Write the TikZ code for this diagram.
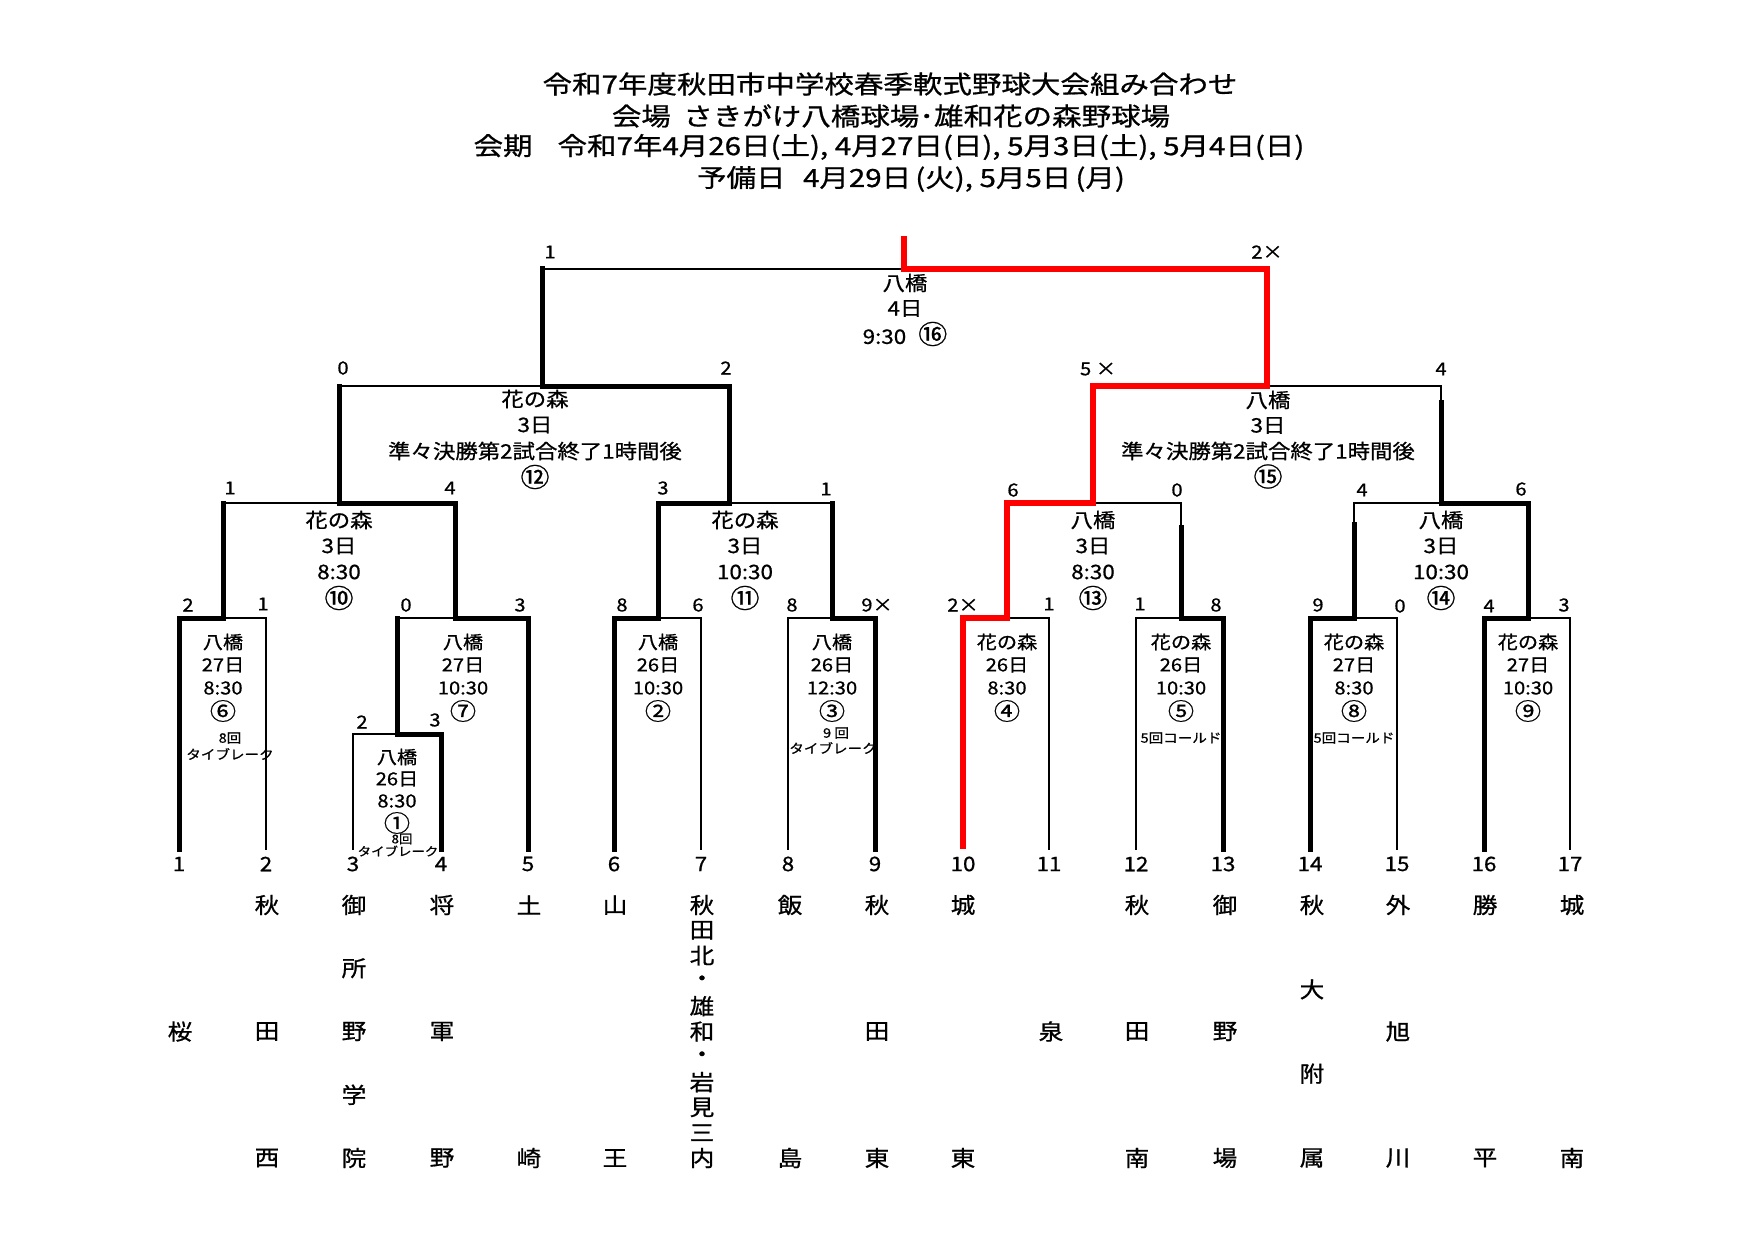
\documentclass[tikz,border=0pt]{standalone}
\usepackage{fontspec}
\setmainfont{Noto Sans CJK JP}
\newfontfamily\jp{Noto Sans CJK JP}[FakeStretch=1.12,FakeBold=0.8]
\newfontfamily\jpt{Noto Sans CJK JP}[FakeStretch=1.18,FakeBold=0.8]
\newcommand\cn[1]{\scalebox{1.3}{#1}}
\newcommand\schoolname[4]{%
  \ifnum#3=1
    \node[kschool] (#1-1) at (#2,1031.5) {#4};
  \else
    \foreach \ch [count=\k] in {#4} {\node[kschool] (#1-\k) at (#2,{905+(\k-1)*253/(#3-1)}) {\ch};}
  \fi}
\newcommand\minfo[6]{%
  \foreach \l [count=\k] in {#6} {\node[#5] (#1-\k) at (#2,{#3+(\k-1)*#4}) {\l};}}
\begin{document}
\begin{tikzpicture}[x=1pt,y=-1pt,
  kthin/.style={line width=2.2pt,line cap=rect,line join=miter},
  kmed/.style={line width=2.8pt,line cap=rect,line join=miter},
  kthick/.style={line width=5pt,line cap=rect,line join=miter},
  kred/.style={line width=5.5pt,draw=red,line cap=butt,line join=miter},
  kttl/.style={font=\jpt\fontsize{25}{25}\selectfont,inner sep=0pt},
  kinf/.style={font=\jp\fontsize{18}{18}\selectfont,inner sep=0pt},
  kinfb/.style={font=\jp\fontsize{20}{20}\selectfont,inner sep=0pt},
  knote/.style={font=\jp\fontsize{13}{13}\selectfont,inner sep=0pt},
  knotes/.style={font=\jp\fontsize{12}{12}\selectfont,inner sep=0pt},
  kscore/.style={font=\jp\fontsize{18}{18}\selectfont,inner sep=0pt},
  knum/.style={font=\jp\fontsize{20}{20}\selectfont,inner sep=0pt},
  kschool/.style={font=\jp\fontsize{22}{22}\selectfont,inner sep=0pt},
]
\fill[white] (0,0) rectangle (1754,1241);
\useasboundingbox (0,0) rectangle (1754,1241);

% title
\node[kttl] (ttl1) at (890,84) {令和7年度秋田市中学校春季軟式野球大会組み合わせ};
\node[kttl] (ttl2) at (891,116) {会場\hspace{0.5em}さきがけ八橋球場･雄和花の森野球場};
\node[kttl] (ttl3) at (889,147) {会期\hspace{1em}令和7年4月26日(土), 4月27日(日), 5月3日(土), 5月4日(日)};
\node[kttl] (ttl4) at (911,179) {予備日\hspace{0.7em}4月29日\,(火), 5月5日\,(月)};

% columns
\foreach \i/\x in {1/179,2/266,3/353,4/441,5/528,6/614,7/701,8/788,9/875,10/963,11/1049,12/1136,13/1223,14/1310,15/1397,16/1484,17/1570}
  {\coordinate (b\i) at (\x,849); \coordinate (t\i) at (\x,618);
   \node[knum] (n\i) at (\x,864) {\i};}
\coordinate (t3) at (353,734);
\coordinate (t4) at (441,734);

% junctions
\coordinate (j1) at (397,734); \coordinate (j1u) at (397,618);
\coordinate (j6) at (223,618); \coordinate (j6u) at (223,503);
\coordinate (j7) at (455,618); \coordinate (j7u) at (455,503);
\coordinate (j2) at (658,618); \coordinate (j2u) at (658,503);
\coordinate (j3) at (832,618); \coordinate (j3u) at (832,503);
\coordinate (j4) at (1007,618); \coordinate (j4u) at (1007,503);
\coordinate (j5) at (1181,618); \coordinate (j5k) at (1181,527); \coordinate (j5u) at (1181,503);
\coordinate (j8) at (1354,618); \coordinate (j8k) at (1354,524); \coordinate (j8u) at (1354,503);
\coordinate (j9) at (1528,618); \coordinate (j9u) at (1528,503);
\coordinate (j10) at (339,503); \coordinate (j10u) at (339,386);
\coordinate (j11) at (729,503); \coordinate (j11u) at (729,386);
\coordinate (j13) at (1093,503); \coordinate (j13u) at (1093,386);
\coordinate (j14) at (1441,503); \coordinate (j14k) at (1441,402); \coordinate (j14u) at (1441,386);
\coordinate (j12) at (542,386); \coordinate (j12u) at (542,269);
\coordinate (j15) at (1267,386); \coordinate (j15u) at (1267,269);
\coordinate (jf) at (904,269); \coordinate (jfu) at (904,236);

% thin (losing) lines
\draw[kthin] (b2) -- (t2) -- (j6);
\draw[kthin] (b3) -- (t3) -- (j1);
\draw[kthin] (j1u) -- (j7);
\draw[kthin] (j6u) -- (j10);
\draw[kthin] (j10u) -- (j12);
\draw[kmed] (j12u) -- (jf);
\draw[kthin] (b7) -- (t7) -- (j2);
\draw[kthin] (b8) -- (t8) -- (j3);
\draw[kthin] (j3u) -- (j11);
\draw[kthin] (b11) -- (t11) -- (j4);
\draw[kthin] (b12) -- (t12) -- (j5);
\draw[kthin] (j5k) -- (j5u) -- (j13);
\draw[kthin] (b15) -- (t15) -- (j8);
\draw[kthin] (j8k) -- (j8u) -- (j14);
\draw[kthin] (b17) -- (t17) -- (j9);
\draw[kthin] (j14k) -- (j14u) -- (j15);

% thick (winning) lines
\draw[kthick] (b1) -- (t1) -- (j6) -- (j6u);
\draw[kthick] (b5) -- (t5) -- (j7) -- (j7u) -- (j10) -- (j10u);
\draw[kthick] (b4) -- (t4) -- (j1) -- (j1u);
\draw[kthick] (b6) -- (t6) -- (j2) -- (j2u) -- (j11) -- (j11u) -- (j12) -- (j12u);
\draw[kthick] (b9) -- (t9) -- (j3) -- (j3u);
\draw[kthick] (b13) -- (t13) -- (j5) -- (j5k);
\draw[kthick] (b14) -- (t14) -- (j8) -- (j8k);
\draw[kthick] (b16) -- (t16) -- (j9) -- (j9u) -- (j14) -- (j14k);
\draw[kred] (b10) -- (t10) -- (j4) -- (j4u) -- (j13) -- (j13u) -- (j15) -- (j15u) -- (jf) -- (jfu);

% match info
\minfo{mF}{905}{283}{25.5}{kinfb}{八橋,4日,9:30\hspace{0.6em}\cn{⑯}}
\minfo{m12}{535}{399}{26}{kinfb}{花の森,3日,準々決勝第2試合終了1時間後,\cn{⑫}}
\minfo{m15}{1268}{400}{25.5}{kinfb}{八橋,3日,準々決勝第2試合終了1時間後,\cn{⑮}}
\minfo{m10}{339}{520}{26}{kinfb}{花の森,3日,8:30,\cn{⑩}}
\minfo{m11}{745}{520}{26}{kinfb}{花の森,3日,10:30,\cn{⑪}}
\minfo{m13}{1093}{520}{26}{kinfb}{八橋,3日,8:30,\cn{⑬}}
\minfo{m14}{1441}{520}{26}{kinfb}{八橋,3日,10:30,\cn{⑭}}
\minfo{m6}{223}{642}{23}{kinf}{八橋,27日,8:30,\cn{⑥}}
\minfo{m7}{463}{642}{23}{kinf}{八橋,27日,10:30,\cn{⑦}}
\minfo{m1}{397}{757}{22}{kinf}{八橋,26日,8:30,\cn{①}}
\minfo{m2}{658}{642}{23}{kinf}{八橋,26日,10:30,\cn{②}}
\minfo{m3}{832}{642}{23}{kinf}{八橋,26日,12:30,\cn{③}}
\minfo{m4}{1007}{642}{23}{kinf}{花の森,26日,8:30,\cn{④}}
\minfo{m5}{1181}{642}{23}{kinf}{花の森,26日,10:30,\cn{⑤}}
\minfo{m8}{1354}{642}{23}{kinf}{花の森,27日,8:30,\cn{⑧}}
\minfo{m9}{1528}{642}{23}{kinf}{花の森,27日,10:30,\cn{⑨}}

% notes
\node[knote] (nt6a) at (230,738) {8回};
\node[knote] (nt6b) at (230,754) {タイブレーク};
\node[knotes] (nt1a) at (402,839) {8回};
\node[knotes] (nt1b) at (398,851) {タイブレーク};
\node[knote] (nt3a) at (836,733) {9 回};
\node[knote] (nt3b) at (833,748) {タイブレーク};
\node[knote] (nt5) at (1181,738) {5回コールド};
\node[knote] (nt8) at (1354,738) {5回コールド};

% scores
\foreach \t/\x/\y [count=\k] in {1/550/252, 2×/1267/252,
  0/343/368, 2/726/368, 5 ×/1098/369, 4/1441/369,
  1/230/488, 4/450/488, 3/663/488, 1/826/489, 6/1013/490, 0/1177/490, 4/1362/490, 6/1521/489,
  2/188/605, 1/263/604, 0/406/605, 3/520/605, 8/622/605, 6/698/605, 8/792/605, 9×/877/605,
  2×/963/605, 1/1049/604, 1/1140/604, 8/1216/605, 9/1318/605, 0/1400/606, 4/1489/606, 3/1564/605,
  2/362/722, 3/435/720}
  {\node[kscore] (sc\k) at (\x,\y) {\t};}

% school names
\schoolname{s1}{180}{1}{桜}
\schoolname{s2}{267}{3}{秋,田,西}
\schoolname{s3}{354}{5}{御,所,野,学,院}
\schoolname{s4}{442}{3}{将,軍,野}
\schoolname{s5}{529}{2}{土,崎}
\schoolname{s6}{615}{2}{山,王}
\schoolname{s7}{702}{11}{秋,田,北,・,雄,和,・,岩,見,三,内}
\schoolname{s8}{790}{2}{飯,島}
\schoolname{s9}{877}{3}{秋,田,東}
\schoolname{s10}{963}{2}{城,東}
\schoolname{s11}{1051}{1}{泉}
\schoolname{s12}{1137}{3}{秋,田,南}
\schoolname{s13}{1225}{3}{御,野,場}
\schoolname{s14}{1312}{4}{秋,大,附,属}
\schoolname{s15}{1398}{3}{外,旭,川}
\schoolname{s16}{1485}{2}{勝,平}
\schoolname{s17}{1572}{2}{城,南}
\end{tikzpicture}
\end{document}
